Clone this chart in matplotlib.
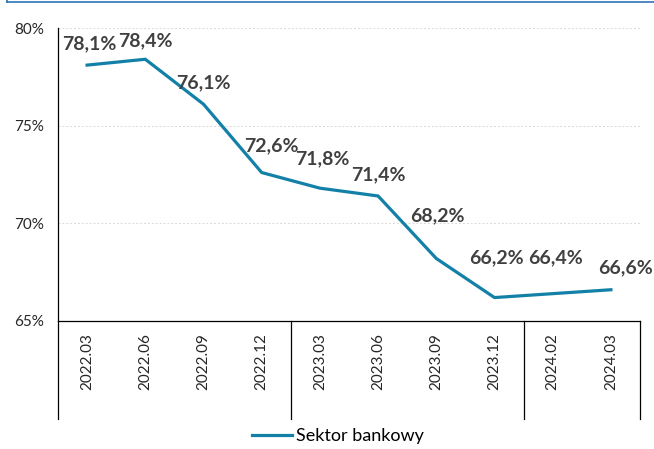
import matplotlib
matplotlib.use("Agg")
import matplotlib.pyplot as plt
from matplotlib.lines import Line2D
import matplotlib.transforms as mtransforms

plt.rcParams['font.family'] = ['Lato', 'DejaVu Sans']

# dane
okresy = ["2022.03", "2022.06", "2022.09", "2022.12", "2023.03", "2023.06",
          "2023.09", "2023.12", "2024.02", "2024.03"]
sektor_bankowy = [78.1, 78.4, 76.1, 72.6, 71.8, 71.4, 68.2, 66.2, 66.4, 66.6]
etykiety = ["78,1%", "78,4%", "76,1%", "72,6%", "71,8%", "71,4%",
            "68,2%", "66,2%", "66,4%", "66,6%"]
granice_grup = [-0.5, 3.5, 7.5, 9.5]

# przesuniecia etykiet (piksele)
przesuniecia = [(2, 21), (0, 19), (0, 21), (10, 27), (2, 29), (0, 21),
                (1, 43), (2, 40), (3, 36), (15, 22)]

kolor = "#1380A8"
W, H = 654, 449
fig = plt.figure(figsize=(W / 100, H / 100), dpi=100)
ax = fig.add_axes([58 / W, (H - 321) / H, (640 - 58) / W, (321 - 28) / H])

x = list(range(len(okresy)))
ax.plot(x, sektor_bankowy, color=kolor, linewidth=2.3, label="Sektor bankowy",
        solid_joinstyle="miter")

for xi, yi, t, (dx, dy) in zip(x, sektor_bankowy, etykiety, przesuniecia):
    ax.annotate(t, (xi, yi), xytext=(dx, dy), textcoords="offset pixels",
                ha="center", va="center", fontsize=14, fontweight="bold",
                color="#404040")

ax.set_xlim(-0.5, 9.5)
ax.set_ylim(65, 80)
ax.set_yticks([65, 70, 75, 80])
ax.set_yticklabels(["65%", "70%", "75%", "80%"], fontsize=11, color="#262626")
ax.set_xticks(x)
ax.set_xticklabels(okresy, rotation=90, fontsize=11, color="#262626")
ax.tick_params(axis="x", length=0, pad=9)
ax.tick_params(axis="y", length=0, pad=10)

for g in [70, 75, 80]:
    ax.axhline(g, color="#d9d9d9", linewidth=0.7, linestyle=(0, (2, 2)), zorder=0)

for s in ["top", "right"]:
    ax.spines[s].set_visible(False)
ax.spines["left"].set_linewidth(0.9)
ax.spines["bottom"].set_linewidth(0.9)

# linie oddzielajace grupy pod osia
trans = mtransforms.blended_transform_factory(ax.transData, ax.transAxes)
for gx in granice_grup:
    ax.plot([gx, gx], [0, -0.334], color="black", linewidth=0.9,
            transform=trans, clip_on=False)

fig.legend(loc="center", bbox_to_anchor=(338 / W, 1 - 436 / H), frameon=False,
           fontsize=13, handlelength=2.2, handletextpad=0.2)

# ramka u gory
fig.add_artist(Line2D([7 / W, 1], [1 - 1.5 / H, 1 - 1.5 / H], color="#2E75B6",
                      linewidth=1.2, transform=fig.transFigure))
fig.add_artist(Line2D([7 / W, 7 / W], [1 - 1.5 / H, 1], color="#2E75B6",
                      linewidth=1.2, transform=fig.transFigure))

fig.savefig("out.png", dpi=100)
